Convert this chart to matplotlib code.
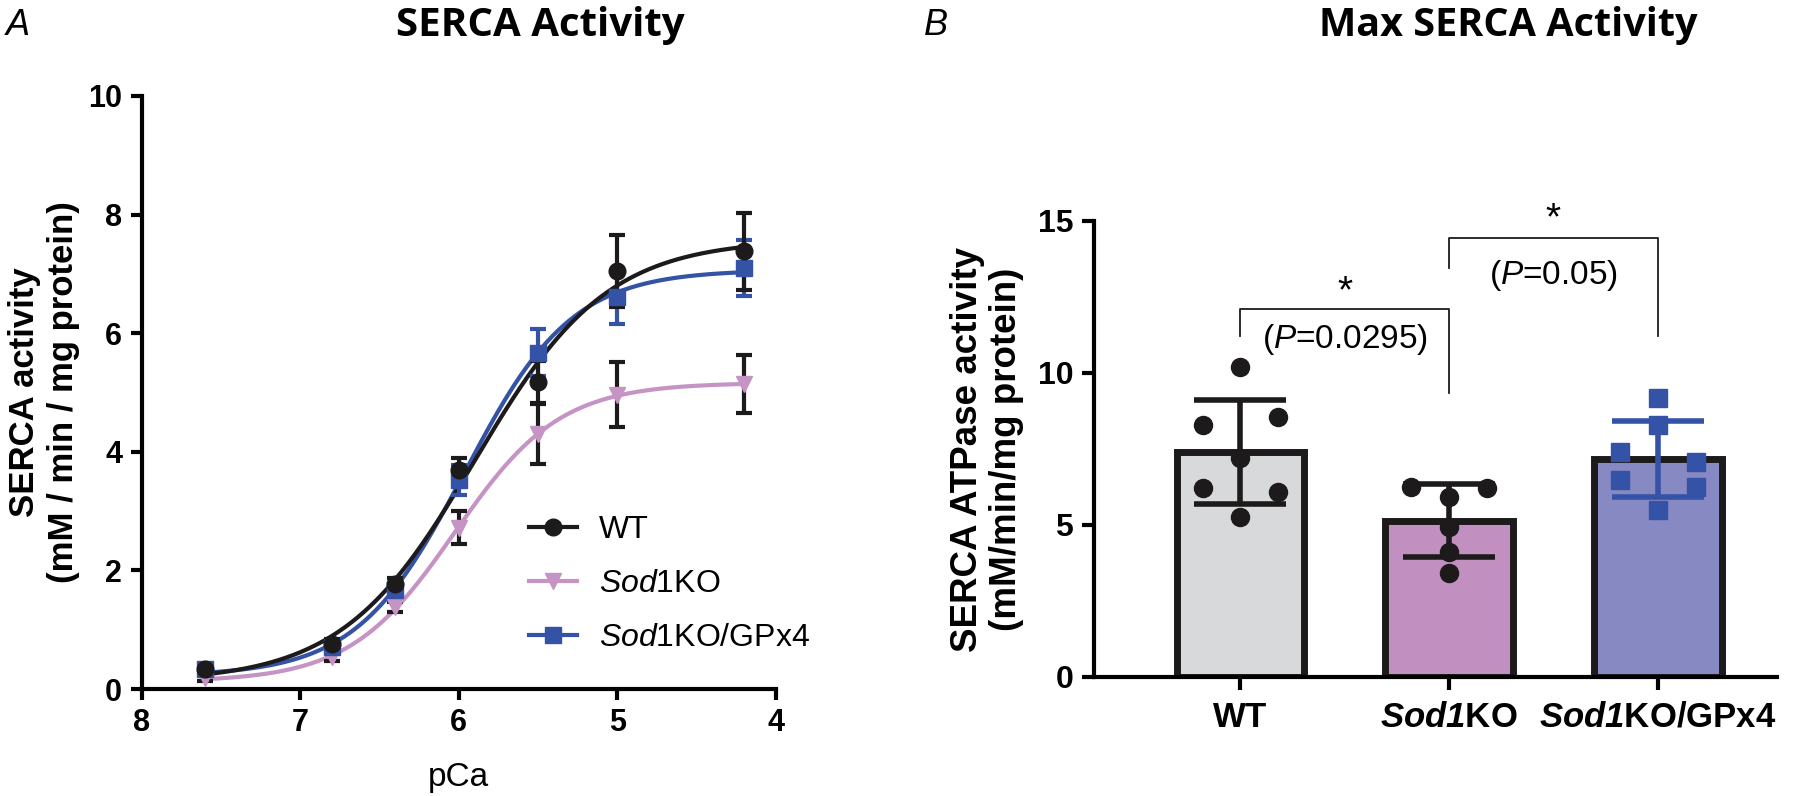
import numpy as np
import matplotlib
matplotlib.use("Agg")
import matplotlib.pyplot as plt
from matplotlib.lines import Line2D

plt.rcParams['font.family'] = ['Liberation Sans', 'DejaVu Sans']
plt.rcParams['mathtext.fontset'] = 'custom'
plt.rcParams['mathtext.rm'] = 'Liberation Sans'
plt.rcParams['mathtext.it'] = 'Liberation Sans:italic'
plt.rcParams['mathtext.bf'] = 'Liberation Sans:bold'
plt.rcParams['mathtext.bfit'] = 'Liberation Sans:italic:bold'

# --- panel A data (pCa curve) ---
pca = [7.6, 6.8, 6.4, 6.0, 5.5, 5.0, 4.2]
wt_act = [0.34, 0.76, 1.77, 3.69, 5.18, 7.05, 7.38]
wt_err = [0.08, 0.08, 0.10, 0.20, 0.35, 0.60, 0.65]
ko_act = [0.18, 0.54, 1.38, 2.72, 4.30, 4.96, 5.14]
ko_err = [0.05, 0.06, 0.08, 0.28, 0.50, 0.55, 0.49]
gp_act = [0.33, 0.71, 1.67, 3.52, 5.67, 6.61, 7.10]
gp_err = [0.08, 0.08, 0.10, 0.25, 0.40, 0.45, 0.47]

# --- panel B data (max activity) ---
groups = ["WT", "Sod1KO", "Sod1KO/GPx4"]
wt_max = [10.2, 8.3, 8.55, 7.2, 6.2, 6.1, 5.25]
ko_max = [6.26, 6.2, 5.93, 4.94, 4.12, 3.41]
gp_max = [9.16, 8.29, 7.41, 7.08, 6.48, 6.26, 5.49]

BLACK = "#1c1a1b"
LILAC = "#c594c5"
BLUE = "#3553a6"
BAR_COLS = ["#d8d9db", "#c290c0", "#8789c3"]


def hill_fit(x, y):
    # grid search least squares for y = bot + span / (1 + 10^(n*(x - p50)))
    x = np.asarray(x)
    y = np.asarray(y)
    best = None
    for p50 in np.arange(5.4, 6.6, 0.005):
        for n in np.arange(0.5, 3.0, 0.01):
            f = 1.0 / (1.0 + 10 ** (n * (x - p50)))
            A = np.column_stack([np.ones_like(f), f])
            coef, *_ = np.linalg.lstsq(A, y, rcond=None)
            r = np.sum((y - A @ coef) ** 2)
            if best is None or r < best[0]:
                best = (r, coef[0], coef[1], p50, n)
    return best[1:]


fig = plt.figure(figsize=(18, 7.96), dpi=100)

# ---------------- Panel A ----------------
ax = fig.add_axes([0.0787, 0.1344, 0.3524, 0.745])
xs = np.linspace(7.6, 4.2, 300)
series = [
    ("WT", wt_act, wt_err, BLACK, "o", BLACK),
    (r"$\it{Sod1}$KO", ko_act, ko_err, LILAC, "v", BLACK),
    (r"$\it{Sod1}$KO/GPx4", gp_act, gp_err, BLUE, "s", BLUE),
]
handles = []
for lab, y, e, c, m, ec in [series[1], series[2], series[0]]:
    bot, span, p50, n = hill_fit(pca, y)
    ax.plot(xs, bot + span / (1 + 10 ** (n * (xs - p50))), color=c, lw=3, zorder=3)
    ax.errorbar(pca, y, yerr=e, fmt="none", ecolor=ec, elinewidth=3,
                capsize=6, capthick=3, zorder=4)
    ax.plot(pca, y, ls="none", marker=m, ms=12, color=c, zorder=5)
for lab, y, e, c, m, ec in series:
    handles.append(Line2D([], [], color=c, lw=3, marker=m, ms=12, label=lab))

ax.set_xlim(8, 4)
ax.set_ylim(0, 10)
ax.set_xticks([8, 7, 6, 5, 4])
ax.set_yticks([0, 2, 4, 6, 8, 10])
for s in ["top", "right"]:
    ax.spines[s].set_visible(False)
for s in ["left", "bottom"]:
    ax.spines[s].set_linewidth(3)
ax.tick_params(width=3, length=8, labelsize=22, pad=6)
for t in ax.get_xticklabels() + ax.get_yticklabels():
    t.set_fontweight("bold")
ax.set_xlabel("pCa", fontsize=24)
ax.xaxis.set_label_coords(0.5, -0.150)
ax.xaxis.label.set_va("center")
ax.set_ylabel("SERCA activity\n(mM / min / mg protein)", fontsize=25,
              fontweight="bold", linespacing=1.2)
ax.yaxis.set_label_coords(-0.154, 0.5)
ax.yaxis.label.set_va("center")
leg = ax.legend(handles=handles, loc="upper left", bbox_to_anchor=(0.59, 0.315),
                frameon=False, fontsize=23, handlelength=1.5, handletextpad=0.7,
                labelspacing=0.75, borderaxespad=0)

fig.text(0.003, 0.968, "A", fontsize=26, style="italic", ha="left", va="center")
fig.text(0.300, 0.968, "SERCA Activity", fontsize=29, fontweight="bold",
         family="Open Sans", ha="center", va="center")

# ---------------- Panel B ----------------
bx = fig.add_axes([0.6078, 0.1495, 0.3794, 0.573])
data = [wt_max, ko_max, gp_max]
pos = np.arange(len(groups))
means = [np.mean(d) for d in data]
sds = [np.std(d, ddof=1) for d in data]
bx.bar(pos, means, width=0.61, color=BAR_COLS, edgecolor=BLACK, linewidth=5, zorder=2)

# scatter columns of individual animals
offs = [[0, -0.18, 0.18, 0, -0.18, 0.18, 0],
        [-0.18, 0.18, 0, 0, 0, 0],
        [0, 0, -0.18, 0.18, -0.18, 0.18, 0]]
marks = ["o", "o", "s"]
mcols = [BLACK, BLACK, BLUE]
for i, d in enumerate(data):
    bx.errorbar(pos[i], means[i], yerr=sds[i], fmt="none", ecolor=mcols[i],
                elinewidth=4, capsize=33, capthick=4, zorder=3)
    bx.plot(pos[i] + np.array(offs[i]), d, ls="none", marker=marks[i], ms=13,
            color=mcols[i], zorder=4)

bx.set_xlim(-0.7, 2.57)
bx.set_ylim(0, 15)
bx.set_yticks([0, 5, 10, 15])
bx.set_xticks(pos)
bx.set_xticklabels([r"$\mathbf{WT}$", r"$\mathbfit{Sod1}\mathbf{KO}$",
                    r"$\mathbfit{Sod1}\mathbf{KO/GPx4}$"])
for s in ["top", "right"]:
    bx.spines[s].set_visible(False)
for s in ["left", "bottom"]:
    bx.spines[s].set_linewidth(3)
bx.tick_params(width=3, length=9, labelsize=23, pad=6)
bx.tick_params(axis="x", labelsize=25, pad=8)
for t in bx.get_yticklabels():
    t.set_fontweight("bold")
bx.set_ylabel("SERCA ATPase activity\n(mM/min/mg protein)", fontsize=26.5,
              fontweight="bold", linespacing=1.15)
bx.yaxis.set_label_coords(-0.1567, 0.5)
bx.yaxis.label.set_va("center")

# significance brackets
def bracket(x1, x2, y, h1, h2, star_y, txt, txt_y):
    bx.plot([x1, x1, x2, x2], [y - h1, y, y, y - h2], color=BLACK, lw=1.3,
            clip_on=False)
    bx.text((x1 + x2) / 2, star_y, "*", fontsize=28, ha="center", va="center")
    bx.text((x1 + x2) / 2, txt_y, txt, fontsize=24, ha="center", va="center")

bracket(0, 1, 12.1, 0.9, 2.75, 12.65, r"($\it{P}$=0.0295)", 11.1)
bracket(1, 2, 14.45, 1.0, 3.25, 15.05, r"($\it{P}$=0.05)", 13.2)

fig.text(0.513, 0.968, "B", fontsize=26, style="italic", ha="left", va="center")
fig.text(0.838, 0.968, "Max SERCA Activity", fontsize=28.5, fontweight="bold",
         family="Open Sans", ha="center", va="center")

fig.savefig("out.png", dpi=100)
